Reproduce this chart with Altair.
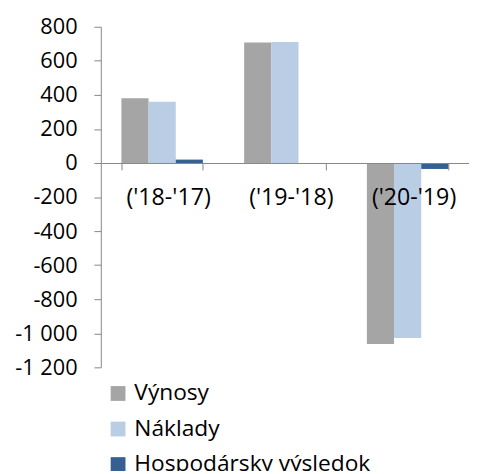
import altair as alt
import pandas as pd

categories = ["('18-'17)", "('19-'18)", "('20-'19)"]
series = ["Výnosy", "Náklady", "Hospodársky výsledok"]
vynosy = [380, 707, -1063]
naklady = [360, 711, -1028]
hv = [20, -4, -35]
colors = ["#A5A5A5", "#B9CDE5", "#376092"]
y_ticks = [800, 600, 400, 200, 0, -200, -400, -600, -800, -1000, -1200]

rows = []
for s, vals in zip(series, [vynosy, naklady, hv]):
    for c, v in zip(categories, vals):
        rows.append({"cat": c, "series": s, "value": v})
df = pd.DataFrame(rows)

FONT = "Open Sans"

chart = alt.Chart(df).mark_bar().encode(
    x=alt.X("cat:N", sort=categories, title=None,
            scale=alt.Scale(paddingInner=0.336, paddingOuter=0.168),
            axis=alt.Axis(labelAngle=0, offset=-207, tickBand="extent",
                          domainColor="#868686", tickColor="#868686",
                          tickSize=7, labelPadding=16, labelFontSize=23.5,
                          labelOffset=6,
                          labelFont=FONT, labelColor="#000000", zindex=1)),
    xOffset=alt.XOffset("series:N", sort=series,
                        scale=alt.Scale(paddingInner=0, paddingOuter=0)),
    y=alt.Y("value:Q", title=None,
            scale=alt.Scale(domain=[-1200, 800], nice=False, zero=False),
            axis=alt.Axis(values=y_ticks, grid=False,
                          domainColor="#868686", tickColor="#868686",
                          tickSize=7, labelPadding=17, labelFontSize=22,
                          labelFont=FONT, labelColor="#000000",
                          labelExpr="(datum.value < 0 ? '-' : '') + replace(format(abs(datum.value), ','), ',', ' ')")),
    color=alt.Color("series:N", sort=series, title=None,
                    scale=alt.Scale(domain=series, range=colors),
                    legend=alt.Legend(orient="none", legendX=6, legendY=360,
                                      direction="vertical", symbolType="square",
                                      symbolSize=225, symbolStrokeWidth=0,
                                      labelFontSize=23, labelFont=FONT,
                                      labelColor="#000000", rowPadding=12,
                                      labelOffset=5, padding=0, labelLimit=400)),
).properties(
    width=373, height=345,
    autosize=alt.AutoSizeParams(type="none"),
    padding={"left": 94, "top": 16, "right": 0, "bottom": 102},
).configure_view(stroke=None)

chart.save("out.html", embed_options={"renderer": "svg", "actions": False})
